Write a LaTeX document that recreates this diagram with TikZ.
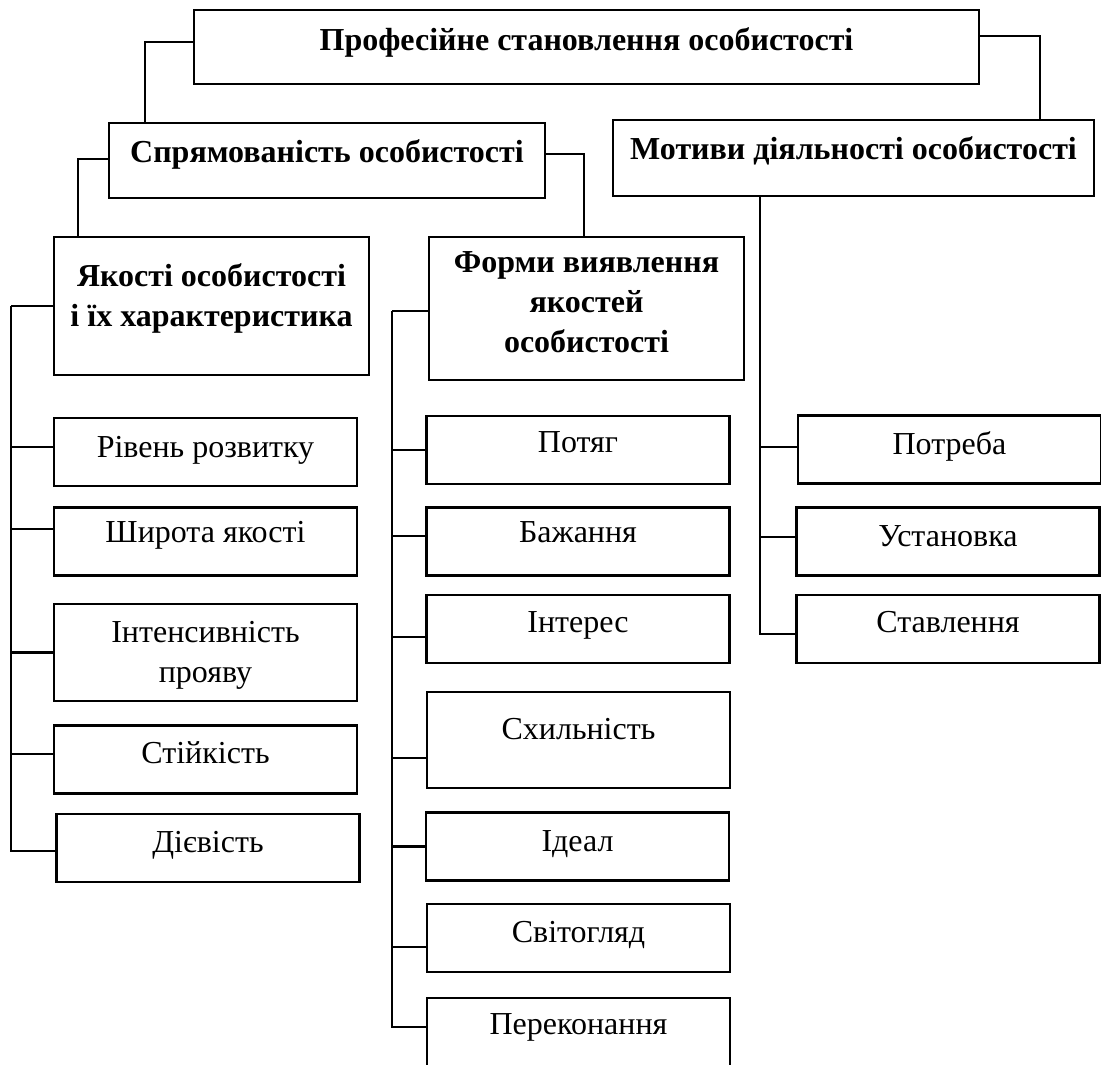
\documentclass[tikz,border=0pt]{standalone}
\usepackage{fontspec}
\setmainfont{Liberation Serif}

\begin{document}
\begin{tikzpicture}[
    x=0.5pt, y=-0.5pt,
    box/.style={rectangle, draw, line width=1.1pt, inner sep=0pt, align=center,
        font=\fontsize{16}{20}\selectfont, text height=11pt, text depth=#1pt},
    box/.default=7.4,
    head/.style={box=#1, font=\fontsize{16}{20}\selectfont\bfseries},
    head/.default=7.4,
    leaf/.style={box=#1, minimum width=151.5pt, minimum height=34pt},
    leaf/.default=7.4,
    link/.style={line width=1.1pt}
]
\useasboundingbox (0,0) rectangle (1101,1064);

% Top levels
\node[head=7.4, minimum width=392.5pt, minimum height=37pt] (prof) at (586.5,47) {Професійне становлення особистості};
\node[head=8.9, minimum width=218pt, minimum height=37.5pt] (spr) at (327,160.5) {Спрямованість особистості};
\node[head=9.4, minimum width=240.5pt, minimum height=38pt] (mot) at (853.5,158) {Мотиви діяльності особистості};
\node[head=10.4, text height=31pt, minimum width=157.5pt, minimum height=69pt] (yak) at (211.5,306) {Якості особистості\\і їх характеристика};
\node[head=6.9, text height=51pt, minimum width=157.5pt, minimum height=71.5pt] (form) at (586.5,308.5) {Форми виявлення\\якостей\\особистості};

% Qualities (left column)
\node[leaf=5.4] (riv) at (205.5,452) {Рівень розвитку};
\node[leaf=9.9] (shyr) at (205.5,541.5) {Широта якості};
\node[leaf=1.4, text height=31pt, minimum height=48.5pt] (intens) at (205.5,652.5) {Інтенсивність\\прояву};
\node[leaf=6.9] (stiyk) at (205.5,759.5) {Стійкість};
\node[leaf=6.4] (diev) at (208,848) {Дієвість};

% Forms (middle column)
\node[leaf=8.4] (potyag) at (578,450) {Потяг};
\node[leaf=9.9] (bazh) at (578,541.5) {Бажання};
\node[leaf=7.4] (inter) at (578,629) {Інтерес};
\node[leaf=11.4, minimum height=48pt] (skhyl) at (578.5,740) {Схильність};
\node[leaf=5.9] (ideal) at (577.5,846.5) {Ідеал};
\node[leaf=6.4] (svit) at (578.5,938) {Світогляд};
\node[leaf=8.4] (perek) at (578.5,1032) {Переконання};

% Motives (right column)
\node[leaf=5.9] (potreba) at (949.5,449.5) {Потреба};
\node[leaf=5.9] (ustan) at (948,541.5) {Установка};
\node[leaf=7.4] (stavl) at (948,629) {Ставлення};

% Links between levels
\draw[link] ([yshift=2.5pt]prof.west) -| ([xshift=18.5pt]spr.north west);
\draw[link] ([yshift=5.5pt]prof.east) -| ([xshift=-27.5pt]mot.north east);
\draw[link] ([yshift=0.75pt]spr.west) -| ([xshift=12.5pt]yak.north west);
\draw[link] ([yshift=3.25pt]spr.east) -| ([xshift=-1.25pt]form.north);

% Bus lines
\coordinate (ybus) at ([xshift=-21pt]yak.west);
\coordinate (fbus) at ([xshift=-18pt, yshift=-1.25pt]form.west);
\coordinate (mbus) at ([xshift=74pt]mot.south west);

\draw[link] (yak.west) -- (ybus);
\foreach \n/\s in {riv/2.5, shyr/6.25, intens/0, stiyk/2.75, diev/-1.5}
    \draw[link] ([yshift=\s pt]\n.west) -| (ybus);

\draw[link] ([yshift=-1.25pt]form.west) -- (fbus);
\foreach \n/\s in {potyag/0, bazh/2.75, inter/-4, skhyl/-9, ideal/0, svit/-4.5, perek/2.5}
    \draw[link] ([yshift=\s pt]\n.west) -| (fbus);

\foreach \n/\s in {potreba/1.25, ustan/2.25, stavl/-2.5}
    \draw[link] ([yshift=\s pt]\n.west) -| (mbus);

\end{tikzpicture}
\end{document}
